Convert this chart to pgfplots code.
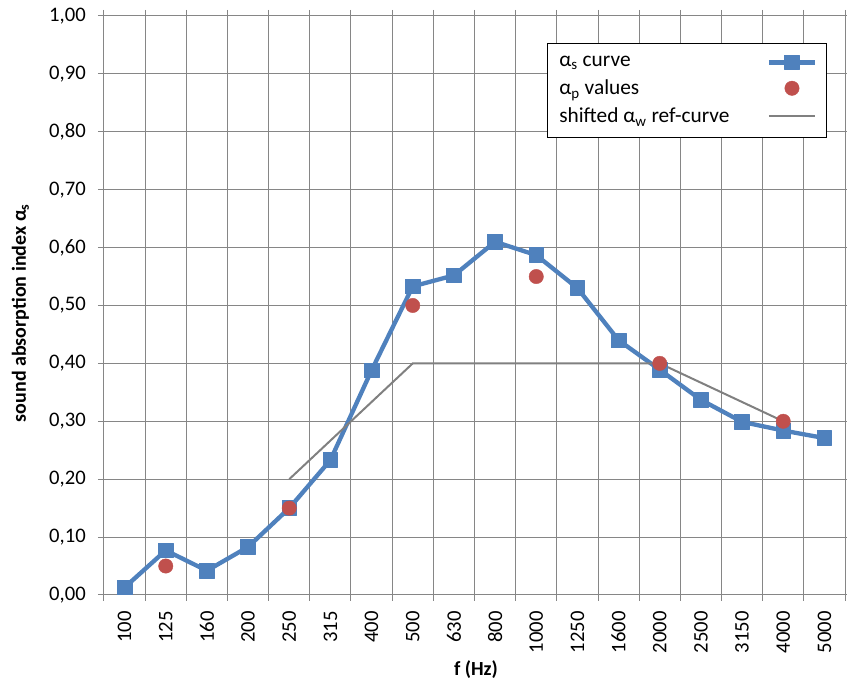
\documentclass[border=0pt]{standalone}
\usepackage{fontspec}
\setmainfont{Carlito}
\usepackage{pgfplots}
\pgfplotsset{compat=1.18}
\definecolor{cblue}{HTML}{4F81BD}
\definecolor{cred}{HTML}{C0504D}
\definecolor{cgray}{HTML}{808080}
\definecolor{cgrid}{HTML}{868686}
\pgfplotsset{
  legimg/.style={legend image code/.code={\draw[mark repeat=2,mark phase=2,##1] plot coordinates {(0pt,0pt)(17.25pt,0pt)(34.5pt,0pt)};}},
}
\begin{document}
\begin{tikzpicture}
\begin{axis}[
  scale only axis, width=555.75pt, height=434.25pt,
  xmin=-0.5, xmax=17.5, ymin=0, ymax=1,
  xtick={0,...,17},
  xticklabels={100,125,160,200,250,315,400,500,630,800,1000,1250,1600,2000,2500,3150,4000,5000},
  minor xtick={-0.5,0.5,...,17.5},
  ytick={0,0.1,0.2,0.3,0.4,0.5,0.6,0.7,0.8,0.9,1.0},
  xminorgrids=true, xmajorgrids=false, ymajorgrids=true,
  grid style={cgrid, line width=0.75pt},
  minor grid style={cgrid, line width=0.75pt},
  axis line style={cgrid, line width=0.75pt},
  tick align=outside,
  major x tick style={draw=none},
  minor x tick style={cgrid, line width=0.75pt},
  y tick style={cgrid, line width=0.75pt},
  minor tick length=4.5pt, major tick length=4.5pt,
  tick label style={font=\fontsize{15.5}{18}\selectfont},
  xticklabel style={rotate=90, anchor=east, inner sep=0pt},
  xticklabel shift=7.5pt,
  yticklabel shift=9pt,
  yticklabel style={anchor=east, inner sep=0pt,
    /pgf/number format/.cd, fixed, fixed zerofill, precision=2, use comma, assume math mode=true},
  xlabel={\textbf{f (Hz)}},
  ylabel={\textbf{sound absorption index α\textsubscript{s}}},
  label style={font=\fontsize{15}{17}\selectfont},
  x label style={at={(axis description cs:0.502,-0.1295)}, anchor=center},
  y label style={at={(axis description cs:-0.1127,0.487)}, anchor=center},
  legend plot pos=right,
  legend cell align=left,
  legend style={at={(rel axis cs:1,1)}, anchor=north east, xshift=-13.5pt, yshift=-20.25pt,
    draw=black, line width=0.75pt, fill=white, font=\fontsize{16}{19}\selectfont,
    inner xsep=7pt, inner ysep=7.5pt, row sep=4.5pt,
    /tikz/every odd column/.append style={column sep=26pt}},
]
\coordinate (tl) at (rel axis cs:0,1);
\coordinate (br) at (rel axis cs:1,0);
\addplot[legimg, cblue, line width=3.25pt, line join=round, mark=square*, mark size=5.5pt,
  mark options={solid, fill=cblue, draw=cblue, line width=0.5pt}]
  coordinates {(0,0.013)(1,0.077)(2,0.042)(3,0.083)(4,0.150)(5,0.233)(6,0.388)(7,0.533)(8,0.552)
  (9,0.610)(10,0.587)(11,0.530)(12,0.440)(13,0.389)(14,0.337)(15,0.299)(16,0.284)(17,0.271)};
\addlegendentry{α\textsubscript{s} curve}
\addlegendimage{legimg, only marks, mark=*, mark size=5.4pt, mark options={fill=cred, draw=cred, line width=0.3pt}}
\addlegendentry{α\textsubscript{p} values}
\addplot[legimg, cgray, line width=1.5pt] coordinates {(4,0.20)(7,0.40)(13,0.40)(16,0.30)};
\addlegendentry{shifted α\textsubscript{w} ref-curve}
\addplot[forget plot, only marks, mark=*, mark size=5.4pt, mark options={fill=cred, draw=cred, line width=0.3pt}]
  coordinates {(1,0.05)(4,0.15)(7,0.50)(10,0.55)(13,0.40)(16,0.30)};
\end{axis}
\pgfresetboundingbox
\path ([xshift=-78pt,yshift=12pt]tl) rectangle ([xshift=1.5pt,yshift=-63.75pt]br);
\end{tikzpicture}
\end{document}
